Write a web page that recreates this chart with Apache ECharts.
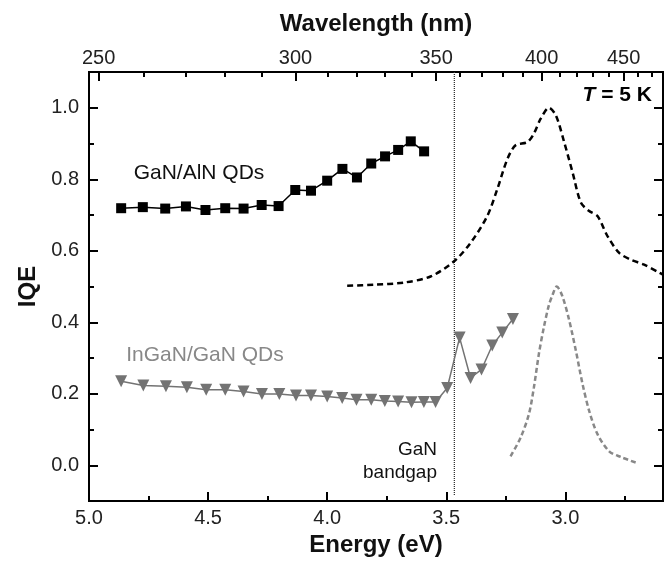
<!DOCTYPE html>
<html>
<head>
<meta charset="utf-8">
<script src="https://cdn.jsdelivr.net/npm/echarts@6/dist/echarts.min.js"></script>
<style>
  html, body { margin: 0; padding: 0; background: #fff; }
  #main { width: 669px; height: 562px; }
</style>
</head>
<body>
<div id="main"></div>
<script>
// GaN/AlN QDs, IQE (squares) - energy in eV
var ganAlnE = [4.865, 4.774, 4.680, 4.593, 4.511, 4.428, 4.351, 4.275, 4.204, 4.134,
               4.068, 4.000, 3.936, 3.875, 3.815, 3.757, 3.702, 3.649, 3.593];
var ganAlnIqe = [0.719, 0.722, 0.718, 0.724, 0.714, 0.719, 0.718, 0.728, 0.725, 0.770,
                 0.768, 0.796, 0.829, 0.805, 0.844, 0.864, 0.882, 0.906, 0.878];

// InGaN/GaN QDs, IQE (triangles)
var inganE = [4.865, 4.772, 4.677, 4.589, 4.508, 4.428, 4.351, 4.274, 4.201, 4.131,
              4.068, 4.000, 3.937, 3.877, 3.815, 3.758, 3.702, 3.646, 3.594, 3.545,
              3.496, 3.444, 3.398, 3.352, 3.307, 3.265, 3.220];
var inganIqe = [0.235, 0.223, 0.221, 0.218, 0.211, 0.211, 0.206, 0.199, 0.199, 0.195,
                0.195, 0.192, 0.188, 0.183, 0.183, 0.180, 0.178, 0.176, 0.177, 0.177,
                0.216, 0.357, 0.244, 0.268, 0.335, 0.371, 0.409];

// PL spectrum GaN/AlN (black dashed)
var plAlnE = [3.916, 3.804, 3.678, 3.566, 3.468, 3.398, 3.328, 3.286, 3.243, 3.209,
              3.159, 3.132, 3.103, 3.069, 3.040, 3.005, 2.970, 2.935, 2.900, 2.865,
              2.823, 2.774, 2.725, 2.669, 2.606, 2.590];
var plAlnI = [0.502, 0.505, 0.511, 0.528, 0.570, 0.622, 0.697, 0.772, 0.857, 0.895,
              0.904, 0.928, 0.970, 1.000, 0.979, 0.904, 0.820, 0.735, 0.711, 0.697,
              0.641, 0.594, 0.575, 0.561, 0.539, 0.533];

// PL spectrum InGaN/GaN (gray dashed)
var plInE = [3.230, 3.188, 3.153, 3.132, 3.111, 3.090, 3.069, 3.054, 3.036, 3.012,
             2.984, 2.956, 2.928, 2.900, 2.865, 2.816, 2.767, 2.697];
var plInI = [0.025, 0.077, 0.143, 0.218, 0.312, 0.387, 0.448, 0.476, 0.500, 0.472,
             0.406, 0.321, 0.228, 0.152, 0.087, 0.039, 0.023, 0.006];

var bandgapE = 3.466;
var bandgapY = [1.1, -0.085];

var energyTicks = [3.0, 3.5, 4.0, 4.5, 5.0];
var energyMinor = [2.75, 3.25, 3.75, 4.25, 4.75];
var wlTicks = [250, 300, 350, 400, 450];
var wlMinor = [260, 270, 280, 290, 310, 320, 330, 340, 360, 370, 380, 390, 410, 420, 430, 440, 460, 470];
var iqeTicks = [0.0, 0.2, 0.4, 0.6, 0.8, 1.0];
var iqeMinor = [0.1, 0.3, 0.5, 0.7, 0.9];

var HC = 1239.84;
function toE(list) { return list.map(function (w) { return HC / w; }).sort(function (a, b) { return a - b; }); }
function zip(a, b) { return a.map(function (v, i) { return [v, b[i]]; }); }

var FONT = 'Liberation Sans, Arial, sans-serif';
var E_MIN = 2.59, E_MAX = 5.0;

function xAx(pos, major, len, extra) {
  var o = {
    type: 'value', position: pos, min: E_MIN, max: E_MAX, inverse: true,
    splitLine: { show: false },
    axisLine: { show: true, onZero: false, lineStyle: { color: '#000', width: 2 } },
    axisTick: { show: true, inside: true, length: len, customValues: major, lineStyle: { color: '#000', width: 2 } },
    axisLabel: { show: false }
  };
  return Object.assign(o, extra || {});
}
function yAx(pos, major, len, extra) {
  var o = {
    type: 'value', position: pos, min: -0.1, max: 1.1,
    splitLine: { show: false },
    axisLine: { show: true, onZero: false, lineStyle: { color: '#000', width: 2 } },
    axisTick: { show: true, inside: true, length: len, customValues: major, lineStyle: { color: '#000', width: 2 } },
    axisLabel: { show: false }
  };
  return Object.assign(o, extra || {});
}

var chart = echarts.init(document.getElementById('main'));
chart.setOption({
  animation: false,
  backgroundColor: '#fff',
  textStyle: { fontFamily: FONT },
  grid: { left: 89, right: 6, top: 72, bottom: 61 },
  xAxis: [
    xAx('bottom', energyTicks, 9, {
      axisLabel: { show: true, customValues: energyTicks, margin: 7, color: '#222', fontSize: 20, fontFamily: FONT,
        formatter: function (v) { return Number(v).toFixed(1); } },
      name: 'Energy (eV)', nameLocation: 'middle', nameGap: 32,
      nameTextStyle: { fontSize: 24, fontWeight: 'bold', color: '#111', fontFamily: FONT }
    }),
    xAx('bottom', energyMinor, 5),
    xAx('top', toE(wlTicks), 9, {
      axisLabel: { show: true, customValues: toE(wlTicks), margin: 4, color: '#222', fontSize: 20, fontFamily: FONT,
        formatter: function (v) { return String(Math.round(HC / v)); } },
      name: 'Wavelength (nm)', nameLocation: 'middle', nameGap: 36,
      nameTextStyle: { fontSize: 24, fontWeight: 'bold', color: '#111', fontFamily: FONT }
    }),
    xAx('top', toE(wlMinor), 5)
  ],
  yAxis: [
    yAx('left', iqeTicks, 9, {
      axisLabel: { show: true, customValues: iqeTicks, margin: 10, color: '#222', fontSize: 20, fontFamily: FONT,
        formatter: function (v) { return Number(v).toFixed(1); } },
      name: 'IQE', nameLocation: 'middle', nameGap: 47,
      nameTextStyle: { fontSize: 24, fontWeight: 'bold', color: '#111', fontFamily: FONT }
    }),
    yAx('left', iqeMinor, 5),
    yAx('right', iqeTicks, 9),
    yAx('right', iqeMinor, 5)
  ],
  series: [
    {
      name: 'bandgap', type: 'line', xAxisIndex: 0, yAxisIndex: 0,
      data: [[bandgapE, bandgapY[0]], [bandgapE, bandgapY[1]]],
      symbol: 'none', lineStyle: { color: '#333', width: 1.3, type: [1, 1] }, z: 1
    },
    {
      name: 'PL GaN/AlN', type: 'line', xAxisIndex: 0, yAxisIndex: 0,
      data: zip(plAlnE, plAlnI), smooth: 0.3, symbol: 'none',
      lineStyle: { color: '#000', width: 2.5, type: [6, 4] }, z: 2
    },
    {
      name: 'PL InGaN/GaN', type: 'line', xAxisIndex: 0, yAxisIndex: 0,
      data: zip(plInE, plInI), smooth: 0.3, symbol: 'none',
      lineStyle: { color: '#888', width: 2.5, type: [5, 3] }, z: 2
    },
    {
      name: 'GaN/AlN QDs', type: 'line', xAxisIndex: 0, yAxisIndex: 0,
      data: zip(ganAlnE, ganAlnIqe), symbol: 'rect', symbolSize: 10,
      itemStyle: { color: '#000' }, lineStyle: { color: '#000', width: 1.5 }, z: 3
    },
    {
      name: 'InGaN/GaN QDs', type: 'line', xAxisIndex: 0, yAxisIndex: 0,
      data: zip(inganE, inganIqe), symbol: 'triangle', symbolRotate: 180, symbolSize: 12,
      itemStyle: { color: '#737373' }, lineStyle: { color: '#737373', width: 1.5 }, z: 3
    }
  ],
  graphic: [
    { type: 'text', x: 199, y: 173, style: { text: 'GaN/AlN QDs', fill: '#111', font: '21px ' + FONT, align: 'center', verticalAlign: 'middle' } },
    { type: 'text', x: 205, y: 355, style: { text: 'InGaN/GaN QDs', fill: '#888', font: '21px ' + FONT, align: 'center', verticalAlign: 'middle' } },
    { type: 'text', x: 652, y: 95, style: {
        text: '{i|T} = 5 K', fill: '#000', font: 'bold 21px ' + FONT, align: 'right', verticalAlign: 'middle',
        rich: { i: { fontStyle: 'italic', fontWeight: 'bold', fontSize: 21, fontFamily: FONT, fill: '#000' } } } },
    { type: 'text', x: 437, y: 450, style: { text: 'GaN', fill: '#111', font: '19px ' + FONT, align: 'right', verticalAlign: 'middle' } },
    { type: 'text', x: 437, y: 473, style: { text: 'bandgap', fill: '#111', font: '19px ' + FONT, align: 'right', verticalAlign: 'middle' } }
  ]
});
</script>
</body>
</html>
